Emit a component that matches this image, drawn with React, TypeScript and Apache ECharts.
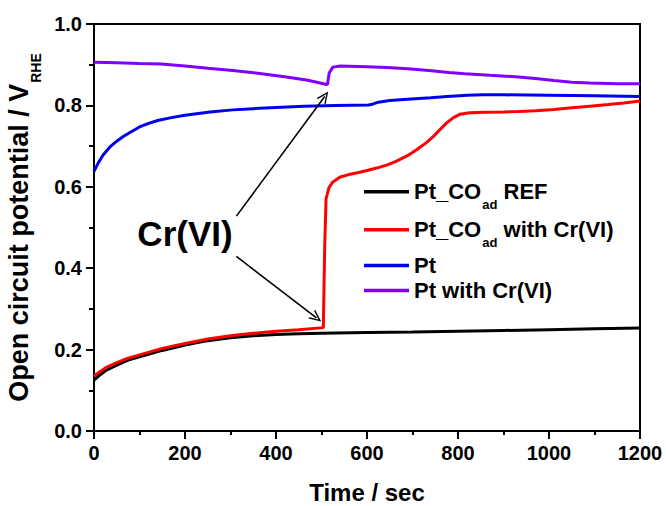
import React, { useEffect, useRef } from 'react';
import * as echarts from 'echarts';

const FONT = '"Liberation Sans", Arial, Helvetica, sans-serif';

const seriesNames = ['Pt_COad REF', 'Pt_COad with Cr(VI)', 'Pt', 'Pt with Cr(VI)'];
const seriesColors = ['#000000', '#ff0000', '#0000f0', '#8000ff'];

const refTime = [0, 10, 25, 50, 75, 100, 150, 200, 250, 300, 350, 400, 450, 500, 600, 700, 800, 900, 1000, 1100, 1200];
const refValue = [0.125, 0.135, 0.148, 0.162, 0.174, 0.182, 0.198, 0.211, 0.222, 0.229, 0.234, 0.237, 0.239, 0.24, 0.242, 0.243, 0.245, 0.247, 0.249, 0.251, 0.253];

const crTime = [0, 10, 25, 50, 75, 100, 150, 200, 250, 300, 350, 400, 450, 504, 507, 510, 516, 525, 541, 560, 577, 600, 621, 645, 665, 690, 709, 730, 746, 760, 775, 790, 804, 826, 860, 900, 933, 970, 1011, 1050, 1090, 1130, 1165, 1200];
const crValue = [0.135, 0.143, 0.155, 0.168, 0.179, 0.187, 0.203, 0.215, 0.226, 0.234, 0.24, 0.245, 0.249, 0.254, 0.45, 0.57, 0.597, 0.612, 0.624, 0.63, 0.634, 0.64, 0.646, 0.654, 0.663, 0.677, 0.691, 0.708, 0.724, 0.74, 0.757, 0.77, 0.778, 0.782, 0.783, 0.784, 0.785, 0.787, 0.79, 0.794, 0.798, 0.802, 0.806, 0.811];

const ptTime = [0, 10, 20, 35, 50, 65, 80, 100, 120, 140, 170, 200, 255, 305, 350, 400, 462, 530, 603, 612, 625, 650, 697, 740, 776, 820, 855, 900, 1000, 1100, 1200];
const ptValue = [0.638, 0.66, 0.678, 0.698, 0.712, 0.724, 0.734, 0.747, 0.756, 0.763, 0.77, 0.776, 0.784, 0.789, 0.792, 0.795, 0.798, 0.8, 0.801, 0.803, 0.808, 0.812, 0.816, 0.819, 0.822, 0.825, 0.826, 0.826, 0.825, 0.824, 0.822];

const ptCrTime = [0, 50, 100, 148, 200, 250, 305, 360, 423, 470, 509, 513, 517, 525, 541, 600, 643, 690, 736, 780, 815, 870, 933, 970, 1011, 1050, 1090, 1150, 1200];
const ptCrValue = [0.906, 0.905, 0.903, 0.902, 0.897, 0.891, 0.886, 0.879, 0.87, 0.862, 0.852, 0.851, 0.88, 0.894, 0.897, 0.895, 0.893, 0.89, 0.886, 0.881, 0.878, 0.874, 0.87, 0.866, 0.861, 0.857, 0.855, 0.853, 0.853];

// arrow annotations in data coordinates: [startTime, startValue, endTime, endValue]
const arrowUp = [313, 0.528, 507, 0.822];
const arrowDown = [313, 0.429, 489, 0.278];

const legendCenters = [192.7, 230.7, 264.5, 289.5];

const zip = (t: number[], v: number[]) => t.map((x, i) => [x, v[i]]);

const LH = 20;
const SUB_PAD = 26;
const SUB_INNER = 15;
const rich = {
  m: { fontFamily: FONT, fontSize: 22, fontWeight: 'bold' as const, color: '#000', lineHeight: LH },
  sub: { fontFamily: FONT, fontSize: 13, fontWeight: 'bold' as const, color: '#000', lineHeight: LH, padding: [SUB_PAD, 0, 0, 1] },
};

const hasSub = (name: string) => name.indexOf('COad') >= 0;

const legendFormatter = (name: string) => {
  if (hasSub(name)) {
    const parts = name.split('COad');
    return `{m|${parts[0]}CO}{sub|ad}{m|${parts[1]}}`;
  }
  return `{m|${name}}`;
};

export default function App() {
  const ref = useRef<HTMLDivElement>(null);
  useEffect(() => {
    const chart = echarts.init(ref.current!, null, { renderer: 'svg' });
    const datasets = [zip(refTime, refValue), zip(crTime, crValue), zip(ptTime, ptValue), zip(ptCrTime, ptCrValue)];
    const arrowSymbol = 'path://M0,10 L5,0 L10,10 L8.6,10 L5,2.8 L1.4,10 Z';
    chart.setOption({
      animation: false,
      backgroundColor: '#fff',
      grid: {
        left: 94, right: 26, top: 24, bottom: 75,
        outerBoundsMode: 'none', containLabel: false,
        show: true, borderColor: '#000', borderWidth: 2, backgroundColor: 'transparent',
      },
      xAxis: {
        type: 'value', min: 0, max: 1200, interval: 200,
        name: 'Time / sec', nameLocation: 'middle', nameGap: 48,
        nameTextStyle: { fontFamily: FONT, fontSize: 24, fontWeight: 'bold', color: '#000', lineHeight: 26 },
        axisLine: { show: true, lineStyle: { color: '#000', width: 2 } },
        axisTick: { show: true, inside: false, length: 8, lineStyle: { color: '#000', width: 2 } },
        minorTick: { show: true, splitNumber: 2, length: 4, lineStyle: { color: '#000', width: 2 } },
        axisLabel: { fontFamily: FONT, fontSize: 20, fontWeight: 'bold', color: '#000', margin: 12, formatter: (v: number) => String(v) },
        splitLine: { show: false },
      },
      yAxis: {
        type: 'value', min: 0, max: 1, interval: 0.2,
        name: '{m|Open circuit potential / V}{sub|RHE}', nameLocation: 'middle', nameGap: 55, nameRotate: 90,
        nameTextStyle: {
          rich: {
            m: { fontFamily: FONT, fontSize: 27, fontWeight: 'bold', color: '#000', lineHeight: 28 },
            sub: { fontFamily: FONT, fontSize: 14, fontWeight: 'bold', color: '#000', lineHeight: 28, padding: [34, 0, 0, 1] },
          },
        },
        axisLine: { show: true, lineStyle: { color: '#000', width: 2 } },
        axisTick: { show: true, inside: false, length: 8, lineStyle: { color: '#000', width: 2 } },
        minorTick: { show: true, splitNumber: 2, length: 5, lineStyle: { color: '#000', width: 2 } },
        axisLabel: { fontFamily: FONT, fontSize: 20, fontWeight: 'bold', color: '#000', margin: 12, formatter: (v: number) => v.toFixed(1) },
        splitLine: { show: false },
      },
      legend: seriesNames.map((n, i) => ({
        data: [n],
        orient: 'vertical',
        left: 364,
        top: hasSub(n) ? legendCenters[i] - (SUB_INNER + SUB_PAD) / 2 : legendCenters[i] - LH / 2,
        padding: 0,
        icon: 'rect',
        itemWidth: 45,
        itemHeight: 3.5,
        selectedMode: false,
        formatter: legendFormatter,
        textStyle: { fontFamily: FONT, fontSize: 22, fontWeight: 'bold', color: '#000', rich },
      })),
      series: seriesNames.map((n, i) => ({
        name: n,
        type: 'line',
        data: datasets[i],
        symbol: 'none',
        showSymbol: false,
        smooth: false,
        lineStyle: { color: seriesColors[i], width: 3 },
        itemStyle: { color: seriesColors[i] },
        emphasis: { disabled: true },
        silent: true,
        ...(i === 3
          ? {
              markLine: {
                silent: true,
                symbol: ['none', arrowSymbol],
                symbolSize: [11, 12],
                label: { show: false },
                emphasis: { disabled: true },
                lineStyle: { color: '#000', width: 1.6, type: 'solid' },
                data: [
                  [{ coord: [arrowUp[0], arrowUp[1]] }, { coord: [arrowUp[2], arrowUp[3]] }],
                  [{ coord: [arrowDown[0], arrowDown[1]] }, { coord: [arrowDown[2], arrowDown[3]] }],
                ],
              },
            }
          : {}),
      })),
      graphic: [
        {
          type: 'text',
          x: 185,
          y: 233,
          style: { text: 'Cr(VI)', fontFamily: FONT, fontSize: 35, fontWeight: 'bold', fill: '#000', align: 'center', verticalAlign: 'middle' },
        },
      ],
    });
    return () => chart.dispose();
  }, []);
  return <div ref={ref} style={{ position: 'fixed', left: 0, top: 0, width: 666, height: 506, background: '#fff' }} />;
}
